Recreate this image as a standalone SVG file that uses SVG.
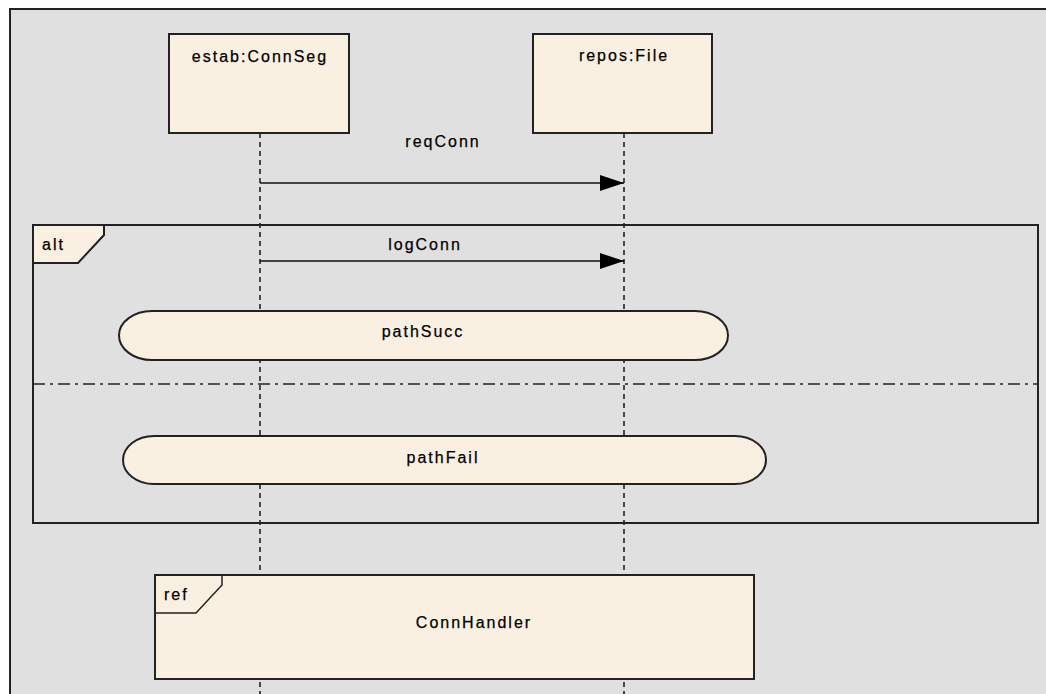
<svg xmlns="http://www.w3.org/2000/svg" width="1046" height="694" viewBox="0 0 1046 694">
<defs>
<style>
.txt{font-family:"Liberation Sans",Arial,sans-serif;font-size:16px;letter-spacing:2px;fill:#000;stroke:#000;stroke-width:0.25;}
.box{fill:#FAF0E2;stroke:#222;stroke-width:2;}
.life{stroke:#222;stroke-width:1.6;stroke-dasharray:5 4;fill:none;}
.msg{stroke:#111;stroke-width:1.5;fill:none;}
.frame{fill:none;stroke:#222;stroke-width:2;}
</style>
<marker id="arr" markerWidth="26" markerHeight="18" refX="24" refY="8" orient="auto" markerUnits="userSpaceOnUse">
<polygon points="0,0 24,8 0,16" fill="#000"/>
</marker>
</defs>
<rect x="0" y="0" width="1046" height="694" fill="#fff"/>
<rect x="10" y="9" width="1036" height="685" fill="#E0E0E0"/>
<path d="M10,694 L10,9 L1046,9" fill="none" stroke="#222" stroke-width="2"/>

<g id="lifelines">
<line class="life" x1="260" y1="133" x2="260" y2="694"/>
<line class="life" x1="624" y1="133" x2="624" y2="694"/>
</g>

<g id="estab">
<rect class="box" x="169" y="34" width="180" height="99"/>
<text class="txt" x="260" y="62" text-anchor="middle">estab:ConnSeg</text>
</g>
<g id="repos">
<rect class="box" x="533" y="34" width="179" height="99"/>
<text class="txt" x="624" y="61" text-anchor="middle">repos:File</text>
</g>

<g id="alt">
<rect class="frame" x="33" y="225" width="1005" height="298"/>
<path d="M33,225 L104,225 L104,235 L78,263 L33,263 Z" class="box"/>
<text class="txt" x="42" y="250">alt</text>
<line x1="33" y1="384" x2="1038" y2="384" stroke="#222" stroke-width="1.5" stroke-dasharray="12 5 3 5"/>
</g>

<g id="connectors">
<line class="msg" x1="260" y1="183" x2="624" y2="183" marker-end="url(#arr)"/>
<text class="txt" x="443" y="147" text-anchor="middle">reqConn</text>
<line class="msg" x1="260" y1="261" x2="624" y2="261" marker-end="url(#arr)"/>
<text class="txt" x="425" y="250" text-anchor="middle">logConn</text>
</g>

<g id="pathSucc">
<path class="box" d="M152,311 L695,311 A33,24.5 0 0 1 695,360 L152,360 A33,24.5 0 0 1 152,311 Z"/>
<text class="txt" x="423" y="337" text-anchor="middle">pathSucc</text>
</g>
<g id="pathFail">
<path class="box" d="M154,436 L735,436 A31,24 0 0 1 735,484 L154,484 A31,24 0 0 1 154,436 Z"/>
<text class="txt" x="443" y="463" text-anchor="middle">pathFail</text>
</g>

<g id="ref">
<rect class="box" x="155" y="575" width="599" height="104"/>
<path d="M155,613 L196,613 L222,585 L222,575" fill="none" stroke="#222" stroke-width="1.5"/>
<text class="txt" x="164" y="600">ref</text>
<text class="txt" x="474" y="628" text-anchor="middle">ConnHandler</text>
</g>
</svg>
